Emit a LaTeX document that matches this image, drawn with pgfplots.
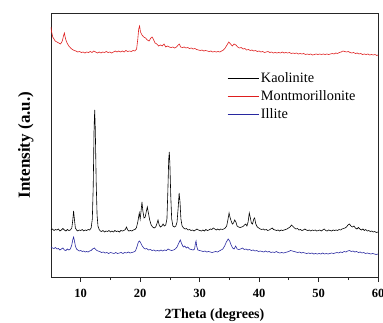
\documentclass[border=0pt]{standalone}
\usepackage{pgfplots}
\pgfplotsset{compat=1.18}
\usepackage{fontspec}
\setmainfont{Liberation Serif}
\definecolor{kred}{RGB}{222,30,30}
\definecolor{kblue}{RGB}{40,40,160}
\begin{document}
\begin{tikzpicture}
\useasboundingbox (-51pt,-45pt) rectangle (332pt,277pt);
\begin{axis}[
  at={(0,0)}, anchor=south west,
  scale only axis, width=327pt, height=264pt,
  xmin=5, xmax=60, ymin=0, ymax=264,
  xtick={10,20,30,40,50,60}, minor x tick num=1,
  ytick=\empty,
  xtick pos=left, tick align=outside,
  major tick length=5pt, minor tick length=3pt,
  axis line style={line width=0.8pt, black!85},
  every tick/.style={line width=0.8pt, black!85},
  /pgf/number format/assume math mode=true,
  xticklabel style={font=\fontsize{12.5}{14}\selectfont\bfseries, yshift=-4pt},
  xlabel={2Theta (degrees)},
  ylabel={Intensity (a.u.)},
  xlabel style={font=\fontsize{14}{16}\selectfont\bfseries, yshift=-3.5pt},
  ylabel style={font=\fontsize{17}{19}\selectfont\bfseries, yshift=9pt},
  legend style={draw=none, fill=none, at={(0.535,0.785)}, anchor=north west,
    font=\fontsize{14.3}{16}\selectfont, row sep=2.5pt, inner sep=1pt},
  legend cell align=left,
  legend image code/.code={\draw[#1, line width=0.8pt] (0pt,0pt) -- (31pt,0pt);},
]
\addplot[black, line width=0.6pt] table {
x y
5.0 47
5.25 48
5.5 46.5
5.75 47.5
6.0 47
6.25 48
6.5 46
6.75 47
7.0 48.5
7.25 47
7.5 46
7.75 47.5
8.0 46.5
8.25 47
8.5 49
8.65 56
8.8 66
8.95 57
9.1 49
9.3 47
9.5 46
9.75 47
10.0 46.5
10.25 47.5
10.5 46
10.75 47
11.0 46.5
11.25 47.5
11.5 47
11.75 49
11.95 58
12.1 90
12.25 150
12.35 167
12.45 148
12.6 95
12.75 62
12.9 51
13.1 47.5
13.3 46
13.5 45.5
13.75 46.5
14.0 45
14.25 46
14.5 45.5
14.75 46.5
15.0 45
15.25 46
15.5 45
15.75 46.5
16.0 45.5
16.25 46
16.5 45
16.75 46.5
17.0 46
17.25 46.5
17.5 47.5
17.7 50
17.9 47
18.1 46
18.35 46.5
18.6 46
18.85 47
19.1 47.5
19.35 49
19.6 55
19.85 64
20.0 58
20.15 66
20.3 75
20.45 66
20.65 59
20.85 60
21.05 66
21.2 70
21.35 65
21.6 57
21.85 52
22.1 50
22.35 49
22.6 50
22.8 53
23.0 57
23.2 52
23.4 50
23.65 51
23.85 53
24.05 51
24.3 52
24.5 58
24.65 85
24.8 118
24.9 125
25.0 112
25.15 80
25.3 58
25.5 51
25.75 50
26.0 51
26.2 55
26.4 70
26.55 84
26.7 75
26.85 58
27.05 51
27.3 49
27.55 48
27.8 48.5
28.05 47
28.3 47.5
28.55 46.5
28.8 47
29.05 46
29.3 47
29.55 48
29.8 47
30.05 46.5
30.3 46
30.55 47
30.8 46
31.05 47.5
31.3 46.5
31.55 47
31.8 48
32.05 47.5
32.3 49
32.55 48
32.8 47
33.05 48
33.3 47
33.55 48
33.8 47.5
34.05 48
34.3 49
34.55 51
34.75 57
34.95 64
35.1 60
35.3 56
35.5 53
35.7 54
35.9 57
36.1 55
36.3 51
36.55 50
36.8 49.5
37.05 50
37.3 50.5
37.55 52
37.75 53
37.95 51
38.15 55
38.35 64
38.5 60
38.7 54
38.9 53
39.1 58
39.25 59
39.45 53
39.7 50
39.95 49
40.2 48
40.45 47.5
40.7 48
40.95 47
41.2 47.5
41.45 46.5
41.7 47
41.95 48
42.2 49
42.45 47.5
42.7 47
42.95 46.5
43.2 47
43.45 46
43.7 47
43.95 46.5
44.2 47
44.45 47.5
44.7 48
44.95 49
45.2 50
45.45 52
45.7 50.5
45.95 49
46.2 48
46.45 48.5
46.7 47
46.95 47.5
47.2 46.5
47.45 47
47.7 48
47.95 47
48.2 46.5
48.45 47
48.7 46
48.95 47
49.2 46.5
49.45 47
49.7 46
49.95 46.5
50.2 47
50.45 46
50.7 47
50.95 48
51.2 46.5
51.45 46
51.7 47
51.95 46.5
52.2 46
52.45 47
52.7 46.5
52.95 47
53.2 46.5
53.45 47.5
53.7 47
53.95 48
54.2 48.5
54.45 49
54.7 50
54.95 52
55.2 53
55.45 51
55.7 50
55.95 51
56.2 49
56.45 48
56.7 49.5
56.95 48
57.2 47
57.45 48
57.7 46.5
57.95 47.5
58.2 46
58.45 46.5
58.7 45.5
58.95 46
59.2 45
59.45 45.5
59.7 44.5
60 45
};
\addlegendentry{Kaolinite}
\addplot[kred, line width=0.6pt] table {
x y
5.0 250
5.1 245
5.3 240
5.5 238
5.7 236
6.0 235
6.3 234
6.6 233
6.9 236
7.1 241
7.25 244
7.45 238
7.7 234
8.0 231
8.3 229
8.6 227.5
8.9 226.5
9.2 226
9.5 225
9.8 225.5
10.1 224.5
10.4 225
10.7 224
11 225
11.3 224.5
11.6 225.5
11.9 224.5
12.2 226
12.5 225
12.8 224
13.1 225
13.4 224
13.7 225
14 224.5
14.3 225.5
14.6 224.5
14.9 225
15.2 224
15.5 225
15.8 226
16.1 225
16.4 226
16.7 225
17 226
17.3 225
17.6 226.5
17.9 225.5
18.2 226
18.5 225.5
18.8 226.5
19.1 226
19.4 228
19.6 238
19.75 248
19.9 251
20.05 245
20.3 242
20.6 240
20.9 239
21.2 237
21.5 236
21.8 239
22.0 240
22.2 238
22.5 234
22.8 233
23.1 231
23.4 232
23.7 231
24.0 233
24.3 230
24.6 231
24.9 230
25.2 229.5
25.5 230
25.8 229
26.1 230
26.4 232
26.6 233
26.8 230
27.1 229.5
27.4 230
27.7 229
28 229.5
28.3 228.5
28.6 229
28.9 228
29.2 228.5
29.5 227.5
29.8 227
30.1 226.5
30.4 227
30.7 226
31 226.5
31.3 226
31.6 225.5
31.9 226
32.2 225
32.5 225.5
32.8 225
33.1 225.5
33.4 225
33.7 226
34 227
34.3 229
34.6 232
34.9 235
35.2 233
35.5 231
35.8 233
36.1 232
36.4 230
36.7 229
37 229.5
37.3 228
37.6 228.5
37.9 227
38.2 227.5
38.5 226.5
38.8 227
39.1 226
39.4 226.5
39.7 225.5
40 226
40.3 225
40.6 225.5
40.9 224.5
41.2 225
41.5 225.5
41.8 224.5
42.1 225
42.4 224
42.7 224.5
43 224
43.3 224.5
43.6 224
43.9 225
44.2 224
44.5 224.5
44.8 224
45.1 224.5
45.4 223.5
45.7 224
46 223.5
46.3 224
46.6 223
46.9 223.5
47.2 223
47.5 223.5
47.8 222.5
48.1 223
48.4 222.5
48.7 223
49 222
49.3 222.5
49.6 223
49.9 222.5
50.2 223
50.5 222.5
50.8 223
51.1 222.5
51.4 223
51.7 222.5
52 223
52.3 223.5
52.6 223
52.9 224
53.2 223.5
53.5 224.5
53.8 225
54.1 226
54.4 225.5
54.7 225
55 225.5
55.3 224.5
55.6 224
55.9 224.5
56.2 223.5
56.5 224
56.8 223
57.1 223.5
57.4 222.5
57.7 223
58 222.5
58.3 223
58.6 222
58.9 222.5
59.2 222
59.5 222.5
59.8 221.5
60 222
};
\addlegendentry{Montmorillonite}
\addplot[kblue, line width=0.6pt] table {
x y
5.0 30
5.25 29
5.5 28.5
5.75 29.5
6.0 28
6.25 28.5
6.5 27
6.75 28
7.0 29
7.25 27
7.5 26.5
7.75 28
8.0 27
8.25 28
8.5 32
8.65 37
8.8 40
8.95 36
9.1 31
9.3 28
9.5 27
9.75 26
10.0 26.5
10.25 25.5
10.5 26
10.75 25
11.0 25.5
11.25 25
11.5 26
11.75 26.5
12.0 28
12.3 29
12.6 27
12.9 26
13.2 25.5
13.5 24.5
13.8 25
14.1 24
14.4 24.5
14.7 23.5
15.0 24.5
15.3 24
15.6 23.5
15.9 24.5
16.2 23.5
16.5 24
16.8 24.5
17.1 23.5
17.4 24.5
17.7 24
18.0 25
18.3 24
18.6 24.5
18.9 25
19.2 26
19.45 30
19.7 35
19.9 36
20.1 34
20.35 31
20.6 29
20.85 28
21.1 28.5
21.4 27
21.7 27.5
22.0 26.5
22.3 27
22.6 26
22.9 26.5
23.2 26
23.5 27
23.8 26
24.1 27
24.4 26.5
24.7 28
25.0 27
25.3 26.5
25.6 27
25.9 28
26.2 30
26.5 34
26.75 37
27.0 33
27.25 30
27.5 31
27.75 29
28.0 30
28.3 28
28.6 27.5
28.9 27
29.15 28
29.3 34
29.4 36
29.5 31
29.7 27
30.0 26.5
30.3 26
30.6 25.5
30.9 26
31.2 25
31.5 25.5
31.8 25
32.1 24.5
32.4 25
32.7 25.5
33.0 25
33.3 26
33.6 27
33.9 28
34.2 31
34.5 35
34.8 38
35.05 36
35.3 32
35.55 29
35.8 28
36.05 31
36.3 28
36.6 27.5
36.9 28
37.2 29
37.5 27.5
37.8 28
38.1 27
38.4 27.5
38.7 26.5
39.0 27
39.3 26
39.6 26.5
39.9 25.5
40.2 26
40.5 25.5
40.8 25
41.1 26
41.4 25
41.7 25.5
42.0 24.5
42.3 25
42.6 24.5
42.9 25.5
43.2 24.5
43.5 24
43.8 24.5
44.1 24
44.4 24.5
44.7 25
45.0 25.5
45.3 26.5
45.6 26
45.9 25.5
46.2 25
46.5 24.5
46.8 25
47.1 24
47.4 24.5
47.7 24
48.0 23.5
48.3 24
48.6 23.5
48.9 24
49.2 23
49.5 23.5
49.8 23
50.1 23.5
50.4 23
50.7 24
51.0 23
51.3 23.5
51.6 23
51.9 23.5
52.2 24
52.5 23.5
52.8 24
53.1 24.5
53.4 24
53.7 25
54.0 24.5
54.3 25.5
54.6 25
54.9 26
55.2 26.5
55.5 25.5
55.8 26
56.1 25
56.4 25.5
56.7 24.5
57.0 25
57.3 24
57.6 24.5
57.9 23.5
58.2 24
58.5 23.5
58.8 23
59.1 23.5
59.4 23
59.7 22.5
60 23
};
\addlegendentry{Illite}
\end{axis}
\end{tikzpicture}
\end{document}
